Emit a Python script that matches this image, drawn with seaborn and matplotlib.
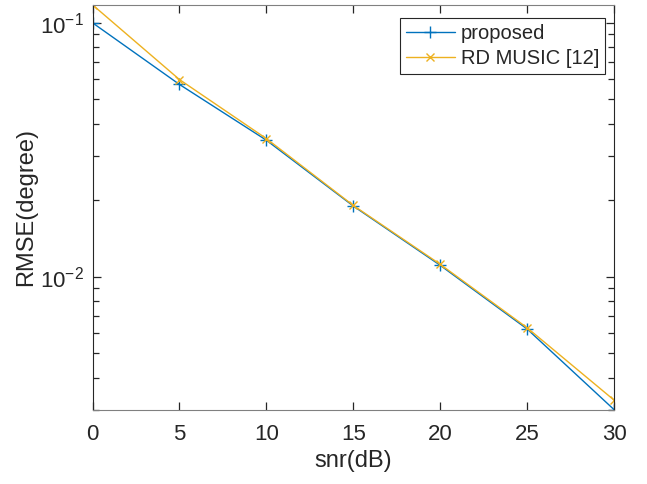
import numpy as np
import pandas as pd
import matplotlib
matplotlib.use("Agg")
import matplotlib.pyplot as plt
import matplotlib.ticker as mticker
import seaborn as sns

snr = [0, 5, 10, 15, 20, 25, 30]
proposed = [0.100, 0.0572, 0.0345, 0.0190, 0.0111, 0.00623, 0.00300]
rd_music = [0.1177, 0.0598, 0.0350, 0.0191, 0.0112, 0.00630, 0.00327]

sns.set_style("ticks")
plt.rcParams['font.family'] = ['Liberation Sans', 'DejaVu Sans']
plt.rcParams['mathtext.fontset'] = 'custom'
plt.rcParams['mathtext.rm'] = 'Liberation Sans'

df = pd.DataFrame({'snr': snr + snr,
                   'rmse': proposed + rd_music,
                   'method': ['proposed'] * len(snr) + ['RD MUSIC [12]'] * len(snr)})

fig = plt.figure(figsize=(6.47, 4.84), dpi=100)
ax = fig.add_axes([0.143, 0.153, 0.806, 0.837])

blue = '#0072BD'
yellow = '#EDB120'
sns.lineplot(data=df[df.method == 'proposed'], x='snr', y='rmse', color=blue,
             marker='+', markersize=9, markeredgewidth=1.0, markeredgecolor=blue,
             linewidth=1.0, label='proposed', ax=ax)
sns.lineplot(data=df[df.method == 'RD MUSIC [12]'], x='snr', y='rmse', color=yellow,
             marker='x', markersize=6, markeredgewidth=1.0, markeredgecolor=yellow,
             linewidth=1.0, label='RD MUSIC [12]', ax=ax)

ymin, ymax = 0.00299, 0.1177
ax.set_yscale('log')
ax.set_xlim(0, 30)
ax.set_ylim(ymin, ymax)
ax.set_xticks([0, 5, 10, 15, 20, 25, 30])
ax.set_yticks([0.01, 0.1])
# minor ticks 2..9 per decade inside the limits
minor = [m * 10.0 ** e for e in range(-3, 0) for m in range(2, 10)]
minor = [v for v in minor if ymin <= v <= ymax]
ax.set_yticks(minor, minor=True)
ax.yaxis.set_minor_formatter(mticker.NullFormatter())
ax.set_ylim(ymin, ymax)

ax.set_xlabel('snr(dB)', fontsize=17)
ax.set_ylabel('RMSE(degree)', fontsize=17, labelpad=2)
ax.tick_params(which='both', direction='in', top=True, right=True, labelsize=16,
               color='#262626', width=0.9)
ax.tick_params(which='major', length=6)
ax.tick_params(which='minor', length=4)
ax.tick_params(axis='x', pad=10)
ax.tick_params(axis='y', pad=6)
for s in ax.spines.values():
    s.set_linewidth(0.8)
    s.set_color('#262626')
ax.spines['top'].set_color('#808080')
ax.spines['bottom'].set_color('#808080')

leg = ax.legend(loc='upper right', bbox_to_anchor=(0.9827, 0.9667), borderaxespad=0,
                fontsize=14.5, frameon=True, fancybox=False,
                edgecolor='#262626', framealpha=1, borderpad=0.3, labelspacing=0.3,
                handlelength=2.4, handletextpad=0.3)
leg.get_frame().set_linewidth(0.8)

fig.savefig('out.png', dpi=100)
